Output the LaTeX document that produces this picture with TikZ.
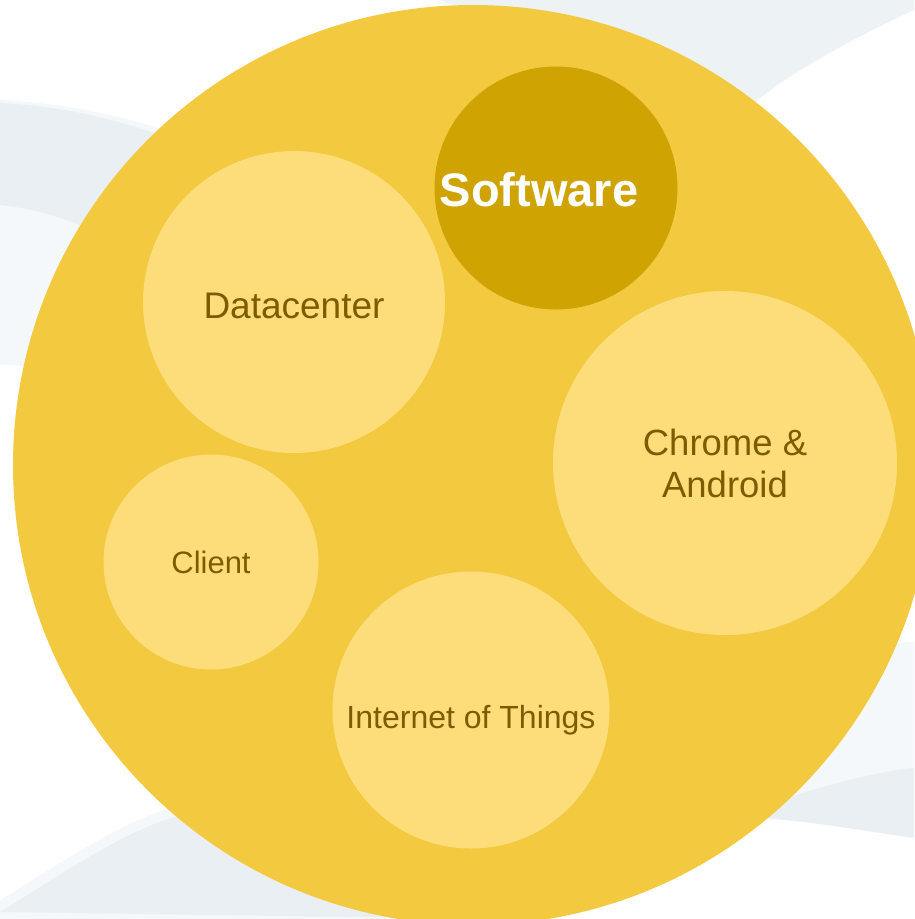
\documentclass[tikz,border=0pt]{standalone}
\usepackage{fontspec}
\setmainfont{Liberation Sans}

\definecolor{swoosh}{RGB}{233,239,242}
\definecolor{swooshlight}{RGB}{245,248,250}
\definecolor{goldouter}{RGB}{243,201,63}
\definecolor{goldinner}{RGB}{253,221,122}
\definecolor{golddark}{RGB}{206,163,2}
\definecolor{goldtext}{RGB}{125,92,0}

\tikzset{
    bubble/.style={circle, fill=goldinner, inner sep=0pt},
    label text/.style={text=goldtext, inner sep=0pt, align=center}
}

\begin{document}
\begin{tikzpicture}[x=1pt,y=-1pt]
    \useasboundingbox (0,0) rectangle (914,919);
    \fill[white] (0,0) rectangle (914,919);
    % faint background swooshes
    \fill[swooshlight] (0,100) .. controls (80,104) and (160,122) .. (240,160) -- (160,390) .. controls (100,372) and (50,366) .. (0,365) -- cycle;
    \fill[swoosh] (0,103) .. controls (60,106) and (120,118) .. (200,150) -- (150,260) .. controls (100,230) and (50,210) .. (0,205) -- cycle;
    \fill[swoosh!80!white] (440,0) -- (914,0) -- (914,10) .. controls (850,40) and (790,72) .. (745,110) -- (600,60) -- cycle;
    \fill[swooshlight] (800,660) .. controls (850,650) and (890,643) .. (914,642) -- (914,770) -- (770,800) -- cycle;
    \fill[swoosh] (760,805) .. controls (820,788) and (870,772) .. (914,768) -- (914,838) .. controls (870,832) and (820,822) .. (760,818) -- cycle;
    \fill[swooshlight] (0,900) .. controls (50,870) and (115,825) .. (170,808) -- (500,919) -- (0,919) -- cycle;
    \fill[swoosh] (0,912) .. controls (50,882) and (120,832) .. (178,816) -- (500,919) -- cycle;

    \node[circle, fill=goldouter, inner sep=0pt, minimum size=920pt] (world) at (473,465) {};

    \node[circle, fill=golddark, inner sep=0pt, minimum size=243pt] (soft) at (556,188) {};
    \node[text=white, inner sep=0pt, font=\fontsize{47}{52}\selectfont\bfseries] (softlabel) at ([xshift=-17pt,yshift=-2pt]soft.center) {Software};

    \node[bubble, minimum size=302pt] (data) at (294,302) {};
    \node[label text, font=\fontsize{37}{42}\selectfont] (datalabel) at ([yshift=-4pt]data.center) {Datacenter};

    \node[bubble, minimum size=344pt] (chrome) at (725,463) {};
    \node[label text, font=\fontsize{36.5}{42}\selectfont] (chromelabel) at (chrome.center) {Chrome \&\\Android};

    \node[bubble, minimum size=215pt] (client) at (211,562) {};
    \node[label text, font=\fontsize{31}{36}\selectfont] (clientlabel) at (client.center) {Client};

    \node[bubble, minimum size=277pt] (iot) at (471,710) {};
    \node[label text, font=\fontsize{32}{37}\selectfont] (iotlabel) at ([yshift=-10pt]iot.center) {Internet of Things};
\end{tikzpicture}
\end{document}
